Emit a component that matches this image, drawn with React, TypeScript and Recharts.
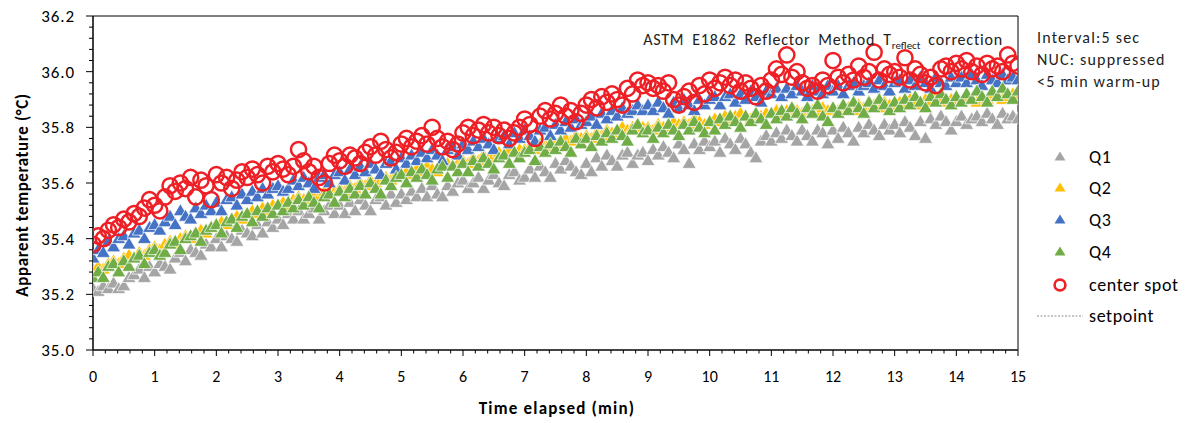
import React from "react";
import { ScatterChart, Scatter, XAxis, YAxis, ReferenceLine, ReferenceArea } from "recharts";

// one reading every 5 s over 15 min (181 samples per series)
const SAMPLE_SEC = 5;

const q1 = [
  35.22, 35.21, 35.23, 35.22, 35.24, 35.22, 35.23, 35.26, 35.27, 35.29, 35.26, 35.30,
  35.28, 35.31, 35.30, 35.29, 35.33, 35.35, 35.32, 35.36, 35.35, 35.34, 35.38, 35.37,
  35.40, 35.37, 35.41, 35.40, 35.39, 35.43, 35.42, 35.41, 35.45, 35.42, 35.46, 35.44,
  35.47, 35.45, 35.49, 35.47, 35.50, 35.47, 35.49, 35.51, 35.47, 35.50, 35.52, 35.49,
  35.52, 35.49, 35.53, 35.50, 35.54, 35.52, 35.50, 35.54, 35.55, 35.52, 35.56, 35.53,
  35.56, 35.54, 35.57, 35.55, 35.58, 35.55, 35.59, 35.56, 35.55, 35.59, 35.57, 35.60,
  35.61, 35.58, 35.60, 35.62, 35.58, 35.61, 35.63, 35.60, 35.59, 35.63, 35.64, 35.61,
  35.62, 35.65, 35.62, 35.66, 35.64, 35.62, 35.67, 35.65, 35.68, 35.66, 35.64, 35.63,
  35.67, 35.64, 35.69, 35.66, 35.70, 35.68, 35.66, 35.70, 35.71, 35.67, 35.70, 35.71,
  35.68, 35.72, 35.70, 35.73, 35.71, 35.69, 35.74, 35.72, 35.67, 35.74, 35.72, 35.75,
  35.73, 35.75, 35.71, 35.76, 35.74, 35.72, 35.76, 35.74, 35.71, 35.69, 35.75, 35.77,
  35.75, 35.78, 35.76, 35.79, 35.77, 35.75, 35.79, 35.77, 35.75, 35.79, 35.78, 35.74,
  35.79, 35.76, 35.80, 35.78, 35.75, 35.80, 35.78, 35.81, 35.79, 35.77, 35.81, 35.79,
  35.81, 35.78, 35.82, 35.80, 35.77, 35.82, 35.76, 35.83, 35.81, 35.84, 35.82, 35.79,
  35.82, 35.84, 35.81, 35.83, 35.84, 35.82, 35.85, 35.83, 35.81, 35.85, 35.83, 35.84,
  35.83,
];

const q2 = [
  35.29, 35.30, 35.29, 35.31, 35.32, 35.31, 35.33, 35.34, 35.33, 35.35, 35.34, 35.36,
  35.37, 35.36, 35.38, 35.39, 35.38, 35.40, 35.41, 35.40, 35.42, 35.43, 35.42, 35.44,
  35.45, 35.46, 35.45, 35.47, 35.48, 35.47, 35.49, 35.50, 35.49, 35.51, 35.50, 35.52,
  35.52, 35.53, 35.52, 35.54, 35.55, 35.54, 35.55, 35.56, 35.55, 35.57, 35.56, 35.57,
  35.58, 35.57, 35.59, 35.58, 35.60, 35.59, 35.61, 35.60, 35.61, 35.62, 35.61, 35.63,
  35.63, 35.64, 35.63, 35.65, 35.64, 35.66, 35.65, 35.64, 35.66, 35.67, 35.66, 35.67,
  35.68, 35.67, 35.69, 35.68, 35.70, 35.69, 35.70, 35.71, 35.70, 35.72, 35.71, 35.72,
  35.72, 35.73, 35.72, 35.74, 35.73, 35.75, 35.74, 35.75, 35.76, 35.75, 35.77, 35.76,
  35.77, 35.76, 35.78, 35.77, 35.79, 35.78, 35.79, 35.80, 35.79, 35.80, 35.81, 35.80,
  35.80, 35.79, 35.81, 35.80, 35.81, 35.82, 35.81, 35.82, 35.81, 35.83, 35.82, 35.81,
  35.82, 35.83, 35.82, 35.84, 35.83, 35.84, 35.85, 35.84, 35.83, 35.85, 35.84, 35.85,
  35.85, 35.86, 35.85, 35.86, 35.87, 35.86, 35.85, 35.87, 35.86, 35.85, 35.87, 35.86,
  35.87, 35.86, 35.88, 35.87, 35.86, 35.88, 35.87, 35.89, 35.88, 35.87, 35.89, 35.88,
  35.88, 35.89, 35.88, 35.90, 35.89, 35.88, 35.90, 35.89, 35.91, 35.90, 35.89, 35.90,
  35.90, 35.89, 35.91, 35.90, 35.89, 35.91, 35.90, 35.92, 35.91, 35.90, 35.91, 35.92,
  35.91,
];

const q3 = [
  35.33, 35.36, 35.35, 35.39, 35.37, 35.40, 35.41, 35.38, 35.42, 35.43, 35.40, 35.44,
  35.45, 35.43, 35.46, 35.48, 35.45, 35.50, 35.48, 35.47, 35.51, 35.49, 35.52, 35.50,
  35.53, 35.50, 35.54, 35.55, 35.52, 35.56, 35.54, 35.57, 35.55, 35.58, 35.56, 35.58,
  35.59, 35.57, 35.58, 35.61, 35.59, 35.62, 35.60, 35.58, 35.62, 35.63, 35.60, 35.63,
  35.64, 35.61, 35.65, 35.63, 35.66, 35.64, 35.67, 35.65, 35.63, 35.67, 35.68, 35.65,
  35.69, 35.67, 35.70, 35.68, 35.71, 35.69, 35.72, 35.70, 35.68, 35.72, 35.73, 35.70,
  35.74, 35.72, 35.75, 35.73, 35.76, 35.74, 35.72, 35.76, 35.77, 35.74, 35.78, 35.76,
  35.79, 35.77, 35.75, 35.79, 35.80, 35.77, 35.81, 35.79, 35.82, 35.80, 35.83, 35.81,
  35.82, 35.84, 35.81, 35.85, 35.83, 35.86, 35.84, 35.87, 35.85, 35.86, 35.88, 35.86,
  35.88, 35.86, 35.89, 35.87, 35.85, 35.89, 35.87, 35.90, 35.88, 35.86, 35.90, 35.88,
  35.90, 35.91, 35.88, 35.91, 35.92, 35.89, 35.92, 35.90, 35.93, 35.91, 35.89, 35.93,
  35.92, 35.94, 35.91, 35.94, 35.92, 35.95, 35.93, 35.91, 35.95, 35.93, 35.92, 35.95,
  35.93, 35.95, 35.92, 35.95, 35.96, 35.93, 35.95, 35.96, 35.94, 35.97, 35.95, 35.93,
  35.96, 35.97, 35.94, 35.97, 35.95, 35.98, 35.96, 35.94, 35.98, 35.96, 35.95, 35.98,
  35.96, 35.98, 35.96, 35.99, 35.97, 35.95, 35.99, 35.97, 35.96, 35.99, 35.97, 35.98,
  35.97,
];

const q4 = [
  35.26, 35.28, 35.26, 35.30, 35.31, 35.28, 35.32, 35.30, 35.33, 35.34, 35.31, 35.35,
  35.36, 35.34, 35.35, 35.38, 35.39, 35.36, 35.40, 35.41, 35.42, 35.39, 35.43, 35.44,
  35.45, 35.42, 35.46, 35.47, 35.44, 35.48, 35.49, 35.46, 35.50, 35.48, 35.51, 35.49,
  35.52, 35.50, 35.53, 35.51, 35.54, 35.52, 35.55, 35.53, 35.51, 35.55, 35.56, 35.53,
  35.57, 35.55, 35.58, 35.56, 35.59, 35.56, 35.60, 35.58, 35.56, 35.61, 35.59, 35.62,
  35.63, 35.60, 35.64, 35.62, 35.65, 35.63, 35.61, 35.65, 35.66, 35.62, 35.66, 35.64,
  35.67, 35.64, 35.68, 35.66, 35.69, 35.67, 35.65, 35.69, 35.70, 35.67, 35.71, 35.69,
  35.71, 35.72, 35.68, 35.73, 35.71, 35.74, 35.72, 35.75, 35.73, 35.71, 35.76, 35.74,
  35.76, 35.73, 35.77, 35.75, 35.78, 35.76, 35.79, 35.77, 35.75, 35.79, 35.81, 35.78,
  35.79, 35.76, 35.80, 35.78, 35.81, 35.79, 35.77, 35.81, 35.79, 35.82, 35.80, 35.78,
  35.82, 35.79, 35.83, 35.81, 35.84, 35.82, 35.80, 35.84, 35.82, 35.85, 35.83, 35.81,
  35.85, 35.83, 35.86, 35.84, 35.87, 35.85, 35.83, 35.87, 35.85, 35.88, 35.84, 35.82,
  35.87, 35.85, 35.88, 35.86, 35.89, 35.87, 35.85, 35.89, 35.87, 35.90, 35.88, 35.86,
  35.89, 35.87, 35.90, 35.88, 35.91, 35.89, 35.87, 35.91, 35.89, 35.92, 35.90, 35.88,
  35.91, 35.89, 35.92, 35.90, 35.93, 35.91, 35.89, 35.93, 35.91, 35.94, 35.92, 35.90,
  35.93,
];

const centerSpot = [
  35.38, 35.41, 35.40, 35.43, 35.45, 35.44, 35.47, 35.46, 35.49, 35.48, 35.51, 35.54,
  35.52, 35.50, 35.55, 35.59, 35.57, 35.60, 35.58, 35.62, 35.55, 35.61, 35.59, 35.54,
  35.63, 35.60, 35.62, 35.58, 35.61, 35.64, 35.62, 35.65, 35.63, 35.60, 35.66, 35.64,
  35.67, 35.65, 35.63, 35.66, 35.72, 35.68, 35.64, 35.66, 35.62, 35.60, 35.67, 35.70,
  35.68, 35.66, 35.70, 35.69, 35.67, 35.71, 35.73, 35.70, 35.75, 35.72, 35.69, 35.71,
  35.74, 35.76, 35.73, 35.75, 35.77, 35.74, 35.80, 35.76, 35.73, 35.75, 35.72, 35.74,
  35.78, 35.80, 35.77, 35.79, 35.81, 35.78, 35.80, 35.77, 35.79, 35.76, 35.78, 35.80,
  35.83, 35.81, 35.76, 35.84, 35.86, 35.83, 35.85, 35.88, 35.84, 35.86, 35.82, 35.85,
  35.88, 35.90, 35.87, 35.91, 35.89, 35.92, 35.90, 35.88, 35.94, 35.92, 35.97, 35.95,
  35.96, 35.94, 35.95, 35.93, 35.96, 35.90, 35.88, 35.91, 35.93, 35.89, 35.95, 35.92,
  35.97, 35.94, 35.96, 35.98, 35.95, 35.97, 35.93, 35.96, 35.94, 35.91, 35.95, 35.93,
  35.97, 36.01, 35.99, 36.06, 35.98, 36.00, 35.96, 35.94, 35.95, 35.93, 35.97, 35.95,
  36.04, 35.98, 35.96, 35.99, 35.97, 36.02, 35.98, 36.00, 36.07, 35.97, 36.01, 35.99,
  36.00, 35.98, 36.05, 35.97, 36.01, 35.99, 35.96, 35.98, 35.95, 36.01, 36.02, 36.00,
  36.03, 36.01, 36.04, 36.00, 36.02, 35.99, 36.03, 36.01, 36.02, 36.00, 36.06, 36.03,
  36.02,
];

const SETPOINT = 35.0;

const X_MAJOR = [0, 1, 2, 3, 4, 5, 6, 7, 8, 9, 10, 11, 12, 13, 14, 15];
const Y_MAJOR = [35.0, 35.2, 35.4, 35.6, 35.8, 36.0, 36.2];
const MINOR_PER_MAJOR = 5;

const FONT = "Carlito, Lato, 'Noto Sans', sans-serif";

const toPoints = (vals: number[]) => vals.map((v, i) => ({ t: (i * SAMPLE_SEC) / 60, v }));

const subdivide = (major: number[]) => {
  const out: number[] = [];
  for (let k = 0; k < major.length - 1; k++) {
    const step = (major[k + 1] - major[k]) / MINOR_PER_MAJOR;
    for (let j = 0; j < MINOR_PER_MAJOR; j++) out.push(major[k] + j * step);
  }
  out.push(major[major.length - 1]);
  return out;
};

const xTicks = subdivide(X_MAJOR);
const yTicks = subdivide(Y_MAJOR);

const isMajor = (v: number, major: number[]) => major.some((m) => Math.abs(m - v) < 1e-6);

const triangle = (color: string, w: number, h: number) => (props: any) => {
  const { cx, cy } = props;
  if (cx == null || cy == null) return null;
  return (
    <path
      d={`M${cx},${cy - h * 0.6}L${cx + w / 2},${cy + h * 0.4}L${cx - w / 2},${cy + h * 0.4}Z`}
      fill={color}
      stroke="#fff"
      strokeWidth={0.7}
    />
  );
};

const ring = (color: string) => (props: any) => {
  const { cx, cy } = props;
  if (cx == null || cy == null) return null;
  return <circle cx={cx} cy={cy} r={7.6} fill="none" stroke={color} strokeWidth={2.5} />;
};

const SERIES = [
  { name: "Q1", values: q1, color: "#A5A5A5", kind: "tri" },
  { name: "Q2", values: q2, color: "#FFC000", kind: "tri" },
  { name: "Q3", values: q3, color: "#4472C4", kind: "tri" },
  { name: "Q4", values: q4, color: "#70AD47", kind: "tri" },
  { name: "center spot", values: centerSpot, color: "#EE2026", kind: "ring" },
];

const XTick = (props: any) => {
  const { x, y, payload } = props;
  const major = isMajor(payload.value, X_MAJOR);
  return (
    <g>
      <line x1={x} x2={x} y1={y} y2={y + (major ? 6 : 3.5)} stroke="#000" />
      {major && (
        <text x={x} y={y + 32} textAnchor="middle" fontSize={16} fill="#000" fontFamily={FONT}>
          {Math.round(payload.value)}
        </text>
      )}
    </g>
  );
};

const YTick = (props: any) => {
  const { x, y, payload } = props;
  const major = isMajor(payload.value, Y_MAJOR);
  return (
    <g>
      <line x1={x - (major ? 7 : 4)} x2={x} y1={y} y2={y} stroke="#000" />
      {major && (
        <text
          x={x - 18}
          y={y + 6}
          textAnchor="end"
          fontSize={17}
          letterSpacing={0.9}
          fill="#000"
          fontFamily={FONT}
        >
          {payload.value.toFixed(1)}
        </text>
      )}
    </g>
  );
};

const LEGEND_Y = [157, 188, 220, 252, 285];

export default function App() {
  return (
    <div
      style={{
        position: "absolute",
        left: 0,
        top: 0,
        width: 1197,
        height: 423,
        background: "#fff",
        fontFamily: FONT,
      }}
    >
      <ScatterChart width={1197} height={423} margin={{ top: 16, right: 179, bottom: 23, left: 0 }}>
        <XAxis
          type="number"
          dataKey="t"
          domain={[0, 15]}
          ticks={xTicks}
          interval={0}
          tick={<XTick />}
          tickLine={false}
          tickSize={0}
          tickMargin={0}
          axisLine={{ stroke: "#000" }}
          height={50}
          allowDataOverflow
        />
        <YAxis
          type="number"
          dataKey="v"
          domain={[35.0, 36.2]}
          ticks={yTicks}
          interval={0}
          tick={<YTick />}
          tickLine={false}
          tickSize={0}
          tickMargin={0}
          axisLine={{ stroke: "#000" }}
          width={93}
          allowDataOverflow
        />
        <ReferenceArea x1={0} x2={15} y1={35.0} y2={36.2} fill="none" stroke="#000" strokeWidth={1} />
        {SERIES.map((s) => (
          <Scatter
            key={s.name}
            name={s.name}
            data={toPoints(s.values)}
            shape={s.kind === "tri" ? triangle(s.color, 14, 12) : ring(s.color)}
            isAnimationActive={false}
          />
        ))}
        <ReferenceLine y={SETPOINT} stroke="#8c8c8c" strokeWidth={2} strokeDasharray="2 1.5" />
      </ScatterChart>

      <svg
        width={1197}
        height={423}
        style={{ position: "absolute", left: 0, top: 0, pointerEvents: "none" }}
        fontFamily={FONT}
      >
        <text x={1003} y={45} textAnchor="end" fontSize={16} letterSpacing={0.8} wordSpacing={3.5} fill="#222">
          ASTM E1862 Reflector Method T
          <tspan fontSize={11} dy={4} letterSpacing={0}>reflect</tspan>
          <tspan dy={-4}> correction</tspan>
        </text>
        <text x={1037} y={43} fontSize={16} letterSpacing={1.2} fill="#222">Interval:5 sec</text>
        <text x={1037} y={65} fontSize={16} letterSpacing={1.2} fill="#222">NUC: suppressed</text>
        <text x={1037} y={87} fontSize={16} letterSpacing={1.2} fill="#222">&lt;5 min warm-up</text>

        {SERIES.map((s, i) => (
          <g key={s.name}>
            {s.kind === "tri" ? (
              <path
                d={`M1060,${LEGEND_Y[i] - 5.5}L1065.5,${LEGEND_Y[i] + 3.5}L1054.5,${LEGEND_Y[i] + 3.5}Z`}
                fill={s.color}
              />
            ) : (
              <circle cx={1060} cy={LEGEND_Y[i]} r={5.4} fill="none" stroke={s.color} strokeWidth={2.6} />
            )}
            <text x={1089} y={LEGEND_Y[i] + 6} fontSize={18} letterSpacing={0.6} fill="#000">
              {s.name}
            </text>
          </g>
        ))}
        <line x1={1037} x2={1083} y1={316} y2={316} stroke="#8c8c8c" strokeWidth={1} strokeDasharray="2 1.5" />
        <text x={1089} y={322} fontSize={18} letterSpacing={0.6} fill="#000">setpoint</text>

        <text
          transform="translate(28,195) rotate(-90)"
          textAnchor="middle"
          fontSize={17}
          letterSpacing={0.6}
          fontWeight="bold"
          fill="#000"
        >
          Apparent temperature (°C)
        </text>
        <text
          x={557}
          y={414}
          textAnchor="middle"
          fontSize={17}
          letterSpacing={1.2}
          fontWeight="bold"
          fill="#000"
        >
          Time elapsed (min)
        </text>
      </svg>
    </div>
  );
}
